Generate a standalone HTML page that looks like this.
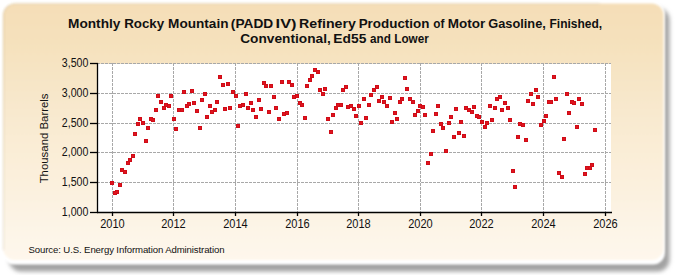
<!DOCTYPE html>
<html><head><meta charset="utf-8"><style>html,body{margin:0;padding:0;background:#fff;width:675px;height:275px;overflow:hidden}svg{display:block}</style></head>
<body><svg width="675" height="275" viewBox="0 0 675 275">
<defs>
<linearGradient id="bg" x1="0" y1="0" x2="0" y2="1">
<stop offset="0" stop-color="rgb(245,222,183)"/>
<stop offset="0.15" stop-color="rgb(245,225,188)"/>
<stop offset="0.4" stop-color="rgb(248,232,205)"/>
<stop offset="0.57" stop-color="rgb(250,237,214)"/>
<stop offset="0.9" stop-color="rgb(253,245,232)"/>
<stop offset="1" stop-color="rgb(254,247,236)"/>
</linearGradient>
<filter id="sh" x="-5%" y="-5%" width="110%" height="115%"><feGaussianBlur stdDeviation="2.3"/></filter>
<filter id="rim" x="-5%" y="-5%" width="110%" height="115%"><feGaussianBlur stdDeviation="1.0"/></filter>
<filter id="soft" x="-5%" y="-5%" width="110%" height="115%"><feGaussianBlur stdDeviation="1.3"/></filter>
</defs>
<rect x="0" y="0" width="675" height="275" fill="#ffffff"/>
<rect x="9" y="8" width="660.5" height="263.5" rx="12" fill="#a2a2a2" filter="url(#sh)"/>
<rect x="2" y="2" width="663" height="262.5" rx="12" fill="#ffffff" filter="url(#rim)"/>
<rect x="3" y="3.5" width="660.5" height="256.5" rx="12" fill="url(#bg)" filter="url(#soft)"/>
<path d="M3.5,250 V15.5 A12,12 0 0 1 15.5,3.5 H600" fill="none" stroke="rgba(110,100,70,0.12)" stroke-width="1.2" filter="url(#soft)"/>
<rect x="98" y="64" width="513" height="148" fill="#ffffff"/>
<g stroke="#a8a8a8" stroke-width="1" stroke-dasharray="3,1" fill="none">
<line x1="97" y1="182.5" x2="611" y2="182.5"/><line x1="97" y1="152.5" x2="611" y2="152.5"/><line x1="97" y1="123.5" x2="611" y2="123.5"/><line x1="97" y1="93.5" x2="611" y2="93.5"/><line x1="97" y1="63.5" x2="611" y2="63.5"/>
</g>
<g stroke="#a8a8a8" stroke-width="1" stroke-dasharray="3,1" fill="none">
<line x1="112.5" y1="63" x2="112.5" y2="212"/><line x1="173.5" y1="63" x2="173.5" y2="212"/><line x1="235.5" y1="63" x2="235.5" y2="212"/><line x1="297.5" y1="63" x2="297.5" y2="212"/><line x1="358.5" y1="63" x2="358.5" y2="212"/><line x1="420.5" y1="63" x2="420.5" y2="212"/><line x1="481.5" y1="63" x2="481.5" y2="212"/><line x1="543.5" y1="63" x2="543.5" y2="212"/><line x1="605.5" y1="63" x2="605.5" y2="212"/>
</g>
<g stroke="#000" stroke-width="1.3" fill="none">
<line x1="97.5" y1="63" x2="97.5" y2="213"/>
<line x1="97" y1="212.5" x2="612" y2="212.5"/>
<line x1="90" y1="212.5" x2="98" y2="212.5"/><line x1="90" y1="182.5" x2="98" y2="182.5"/><line x1="90" y1="152.5" x2="98" y2="152.5"/><line x1="90" y1="123.5" x2="98" y2="123.5"/><line x1="90" y1="93.5" x2="98" y2="93.5"/><line x1="90" y1="63.5" x2="98" y2="63.5"/>
<line x1="112.5" y1="212" x2="112.5" y2="216"/><line x1="173.5" y1="212" x2="173.5" y2="216"/><line x1="235.5" y1="212" x2="235.5" y2="216"/><line x1="297.5" y1="212" x2="297.5" y2="216"/><line x1="358.5" y1="212" x2="358.5" y2="216"/><line x1="420.5" y1="212" x2="420.5" y2="216"/><line x1="481.5" y1="212" x2="481.5" y2="216"/><line x1="543.5" y1="212" x2="543.5" y2="216"/><line x1="605.5" y1="212" x2="605.5" y2="216"/>
</g>
<g fill="#CF0C17">
<rect x="110" y="181" width="4" height="4"/><rect x="113" y="191" width="4" height="4"/><rect x="115" y="190" width="4" height="4"/><rect x="118" y="183" width="4" height="4"/><rect x="120" y="168" width="4" height="4"/><rect x="123" y="170" width="4" height="4"/><rect x="126" y="161" width="4" height="4"/><rect x="128" y="158" width="4" height="4"/><rect x="131" y="154" width="4" height="4"/><rect x="133" y="132" width="4" height="4"/><rect x="136" y="122" width="4" height="4"/><rect x="138" y="117" width="4" height="4"/><rect x="141" y="121" width="4" height="4"/><rect x="144" y="139" width="4" height="4"/><rect x="146" y="126" width="4" height="4"/><rect x="149" y="117" width="4" height="4"/><rect x="151" y="118" width="4" height="4"/><rect x="154" y="108" width="4" height="4"/><rect x="156" y="94" width="4" height="4"/><rect x="159" y="100" width="4" height="4"/><rect x="162" y="106" width="4" height="4"/><rect x="164" y="103" width="4" height="4"/><rect x="167" y="104" width="4" height="4"/><rect x="169" y="94" width="4" height="4"/><rect x="172" y="117" width="4" height="4"/><rect x="174" y="127" width="4" height="4"/><rect x="177" y="108" width="4" height="4"/><rect x="180" y="108" width="4" height="4"/><rect x="182" y="90" width="4" height="4"/><rect x="185" y="104" width="4" height="4"/><rect x="187" y="102" width="4" height="4"/><rect x="190" y="89" width="4" height="4"/><rect x="192" y="101" width="4" height="4"/><rect x="195" y="109" width="4" height="4"/><rect x="198" y="126" width="4" height="4"/><rect x="200" y="98" width="4" height="4"/><rect x="203" y="92" width="4" height="4"/><rect x="205" y="115" width="4" height="4"/><rect x="208" y="104" width="4" height="4"/><rect x="210" y="110" width="4" height="4"/><rect x="213" y="108" width="4" height="4"/><rect x="215" y="100" width="4" height="4"/><rect x="218" y="75" width="4" height="4"/><rect x="221" y="83" width="4" height="4"/><rect x="223" y="107" width="4" height="4"/><rect x="226" y="82" width="4" height="4"/><rect x="228" y="106" width="4" height="4"/><rect x="231" y="90" width="4" height="4"/><rect x="234" y="94" width="4" height="4"/><rect x="236" y="124" width="4" height="4"/><rect x="238" y="104" width="4" height="4"/><rect x="241" y="103" width="4" height="4"/><rect x="244" y="92" width="4" height="4"/><rect x="246" y="106" width="4" height="4"/><rect x="249" y="101" width="4" height="4"/><rect x="251" y="108" width="4" height="4"/><rect x="254" y="115" width="4" height="4"/><rect x="257" y="98" width="4" height="4"/><rect x="259" y="107" width="4" height="4"/><rect x="262" y="81" width="4" height="4"/><rect x="264" y="84" width="4" height="4"/><rect x="267" y="110" width="4" height="4"/><rect x="269" y="84" width="4" height="4"/><rect x="272" y="95" width="4" height="4"/><rect x="274" y="106" width="4" height="4"/><rect x="277" y="117" width="4" height="4"/><rect x="280" y="80" width="4" height="4"/><rect x="282" y="112" width="4" height="4"/><rect x="285" y="111" width="4" height="4"/><rect x="287" y="80" width="4" height="4"/><rect x="290" y="83" width="4" height="4"/><rect x="292" y="95" width="4" height="4"/><rect x="295" y="94" width="4" height="4"/><rect x="298" y="101" width="4" height="4"/><rect x="300" y="103" width="4" height="4"/><rect x="303" y="116" width="4" height="4"/><rect x="305" y="84" width="4" height="4"/><rect x="308" y="78" width="4" height="4"/><rect x="310" y="74" width="4" height="4"/><rect x="313" y="68" width="4" height="4"/><rect x="316" y="70" width="4" height="4"/><rect x="318" y="88" width="4" height="4"/><rect x="321" y="92" width="4" height="4"/><rect x="323" y="87" width="4" height="4"/><rect x="326" y="117" width="4" height="4"/><rect x="329" y="130" width="4" height="4"/><rect x="331" y="113" width="4" height="4"/><rect x="334" y="106" width="4" height="4"/><rect x="336" y="103" width="4" height="4"/><rect x="339" y="103" width="4" height="4"/><rect x="341" y="88" width="4" height="4"/><rect x="344" y="85" width="4" height="4"/><rect x="346" y="105" width="4" height="4"/><rect x="349" y="104" width="4" height="4"/><rect x="352" y="107" width="4" height="4"/><rect x="354" y="114" width="4" height="4"/><rect x="357" y="104" width="4" height="4"/><rect x="359" y="121" width="4" height="4"/><rect x="362" y="97" width="4" height="4"/><rect x="364" y="116" width="4" height="4"/><rect x="367" y="103" width="4" height="4"/><rect x="369" y="93" width="4" height="4"/><rect x="372" y="88" width="4" height="4"/><rect x="375" y="85" width="4" height="4"/><rect x="377" y="99" width="4" height="4"/><rect x="380" y="95" width="4" height="4"/><rect x="382" y="100" width="4" height="4"/><rect x="385" y="104" width="4" height="4"/><rect x="388" y="96" width="4" height="4"/><rect x="390" y="120" width="4" height="4"/><rect x="393" y="111" width="4" height="4"/><rect x="395" y="117" width="4" height="4"/><rect x="398" y="100" width="4" height="4"/><rect x="400" y="97" width="4" height="4"/><rect x="403" y="76" width="4" height="4"/><rect x="405" y="87" width="4" height="4"/><rect x="408" y="97" width="4" height="4"/><rect x="411" y="100" width="4" height="4"/><rect x="413" y="113" width="4" height="4"/><rect x="416" y="109" width="4" height="4"/><rect x="418" y="104" width="4" height="4"/><rect x="421" y="105" width="4" height="4"/><rect x="423" y="113" width="4" height="4"/><rect x="426" y="161" width="4" height="4"/><rect x="429" y="152" width="4" height="4"/><rect x="431" y="129" width="4" height="4"/><rect x="434" y="112" width="4" height="4"/><rect x="436" y="104" width="4" height="4"/><rect x="439" y="122" width="4" height="4"/><rect x="441" y="126" width="4" height="4"/><rect x="444" y="149" width="4" height="4"/><rect x="447" y="121" width="4" height="4"/><rect x="449" y="115" width="4" height="4"/><rect x="452" y="135" width="4" height="4"/><rect x="454" y="107" width="4" height="4"/><rect x="457" y="131" width="4" height="4"/><rect x="459" y="120" width="4" height="4"/><rect x="462" y="134" width="4" height="4"/><rect x="464" y="106" width="4" height="4"/><rect x="467" y="108" width="4" height="4"/><rect x="470" y="110" width="4" height="4"/><rect x="472" y="105" width="4" height="4"/><rect x="475" y="114" width="4" height="4"/><rect x="477" y="115" width="4" height="4"/><rect x="480" y="120" width="4" height="4"/><rect x="483" y="125" width="4" height="4"/><rect x="485" y="121" width="4" height="4"/><rect x="488" y="104" width="4" height="4"/><rect x="490" y="118" width="4" height="4"/><rect x="493" y="106" width="4" height="4"/><rect x="495" y="97" width="4" height="4"/><rect x="498" y="95" width="4" height="4"/><rect x="500" y="108" width="4" height="4"/><rect x="503" y="101" width="4" height="4"/><rect x="506" y="106" width="4" height="4"/><rect x="508" y="118" width="4" height="4"/><rect x="511" y="169" width="4" height="4"/><rect x="513" y="185" width="4" height="4"/><rect x="516" y="135" width="4" height="4"/><rect x="518" y="122" width="4" height="4"/><rect x="521" y="123" width="4" height="4"/><rect x="524" y="138" width="4" height="4"/><rect x="526" y="99" width="4" height="4"/><rect x="529" y="92" width="4" height="4"/><rect x="531" y="102" width="4" height="4"/><rect x="534" y="88" width="4" height="4"/><rect x="536" y="95" width="4" height="4"/><rect x="539" y="123" width="4" height="4"/><rect x="542" y="119" width="4" height="4"/><rect x="544" y="114" width="4" height="4"/><rect x="547" y="100" width="4" height="4"/><rect x="549" y="100" width="4" height="4"/><rect x="552" y="75" width="4" height="4"/><rect x="554" y="97" width="4" height="4"/><rect x="557" y="171" width="4" height="4"/><rect x="560" y="175" width="4" height="4"/><rect x="562" y="137" width="4" height="4"/><rect x="565" y="92" width="4" height="4"/><rect x="567" y="111" width="4" height="4"/><rect x="570" y="100" width="4" height="4"/><rect x="572" y="101" width="4" height="4"/><rect x="575" y="125" width="4" height="4"/><rect x="577" y="97" width="4" height="4"/><rect x="580" y="102" width="4" height="4"/><rect x="583" y="172" width="4" height="4"/><rect x="585" y="166" width="4" height="4"/><rect x="588" y="166" width="4" height="4"/><rect x="590" y="163" width="4" height="4"/><rect x="593" y="128" width="4" height="4"/>
</g>
<g fill="#E0141E">
<rect x="111" y="182" width="2" height="2"/><rect x="114" y="192" width="2" height="2"/><rect x="116" y="191" width="2" height="2"/><rect x="119" y="184" width="2" height="2"/><rect x="121" y="169" width="2" height="2"/><rect x="124" y="171" width="2" height="2"/><rect x="127" y="162" width="2" height="2"/><rect x="129" y="159" width="2" height="2"/><rect x="132" y="155" width="2" height="2"/><rect x="134" y="133" width="2" height="2"/><rect x="137" y="123" width="2" height="2"/><rect x="139" y="118" width="2" height="2"/><rect x="142" y="122" width="2" height="2"/><rect x="145" y="140" width="2" height="2"/><rect x="147" y="127" width="2" height="2"/><rect x="150" y="118" width="2" height="2"/><rect x="152" y="119" width="2" height="2"/><rect x="155" y="109" width="2" height="2"/><rect x="157" y="95" width="2" height="2"/><rect x="160" y="101" width="2" height="2"/><rect x="163" y="107" width="2" height="2"/><rect x="165" y="104" width="2" height="2"/><rect x="168" y="105" width="2" height="2"/><rect x="170" y="95" width="2" height="2"/><rect x="173" y="118" width="2" height="2"/><rect x="175" y="128" width="2" height="2"/><rect x="178" y="109" width="2" height="2"/><rect x="181" y="109" width="2" height="2"/><rect x="183" y="91" width="2" height="2"/><rect x="186" y="105" width="2" height="2"/><rect x="188" y="103" width="2" height="2"/><rect x="191" y="90" width="2" height="2"/><rect x="193" y="102" width="2" height="2"/><rect x="196" y="110" width="2" height="2"/><rect x="199" y="127" width="2" height="2"/><rect x="201" y="99" width="2" height="2"/><rect x="204" y="93" width="2" height="2"/><rect x="206" y="116" width="2" height="2"/><rect x="209" y="105" width="2" height="2"/><rect x="211" y="111" width="2" height="2"/><rect x="214" y="109" width="2" height="2"/><rect x="216" y="101" width="2" height="2"/><rect x="219" y="76" width="2" height="2"/><rect x="222" y="84" width="2" height="2"/><rect x="224" y="108" width="2" height="2"/><rect x="227" y="83" width="2" height="2"/><rect x="229" y="107" width="2" height="2"/><rect x="232" y="91" width="2" height="2"/><rect x="235" y="95" width="2" height="2"/><rect x="237" y="125" width="2" height="2"/><rect x="239" y="105" width="2" height="2"/><rect x="242" y="104" width="2" height="2"/><rect x="245" y="93" width="2" height="2"/><rect x="247" y="107" width="2" height="2"/><rect x="250" y="102" width="2" height="2"/><rect x="252" y="109" width="2" height="2"/><rect x="255" y="116" width="2" height="2"/><rect x="258" y="99" width="2" height="2"/><rect x="260" y="108" width="2" height="2"/><rect x="263" y="82" width="2" height="2"/><rect x="265" y="85" width="2" height="2"/><rect x="268" y="111" width="2" height="2"/><rect x="270" y="85" width="2" height="2"/><rect x="273" y="96" width="2" height="2"/><rect x="275" y="107" width="2" height="2"/><rect x="278" y="118" width="2" height="2"/><rect x="281" y="81" width="2" height="2"/><rect x="283" y="113" width="2" height="2"/><rect x="286" y="112" width="2" height="2"/><rect x="288" y="81" width="2" height="2"/><rect x="291" y="84" width="2" height="2"/><rect x="293" y="96" width="2" height="2"/><rect x="296" y="95" width="2" height="2"/><rect x="299" y="102" width="2" height="2"/><rect x="301" y="104" width="2" height="2"/><rect x="304" y="117" width="2" height="2"/><rect x="306" y="85" width="2" height="2"/><rect x="309" y="79" width="2" height="2"/><rect x="311" y="75" width="2" height="2"/><rect x="314" y="69" width="2" height="2"/><rect x="317" y="71" width="2" height="2"/><rect x="319" y="89" width="2" height="2"/><rect x="322" y="93" width="2" height="2"/><rect x="324" y="88" width="2" height="2"/><rect x="327" y="118" width="2" height="2"/><rect x="330" y="131" width="2" height="2"/><rect x="332" y="114" width="2" height="2"/><rect x="335" y="107" width="2" height="2"/><rect x="337" y="104" width="2" height="2"/><rect x="340" y="104" width="2" height="2"/><rect x="342" y="89" width="2" height="2"/><rect x="345" y="86" width="2" height="2"/><rect x="347" y="106" width="2" height="2"/><rect x="350" y="105" width="2" height="2"/><rect x="353" y="108" width="2" height="2"/><rect x="355" y="115" width="2" height="2"/><rect x="358" y="105" width="2" height="2"/><rect x="360" y="122" width="2" height="2"/><rect x="363" y="98" width="2" height="2"/><rect x="365" y="117" width="2" height="2"/><rect x="368" y="104" width="2" height="2"/><rect x="370" y="94" width="2" height="2"/><rect x="373" y="89" width="2" height="2"/><rect x="376" y="86" width="2" height="2"/><rect x="378" y="100" width="2" height="2"/><rect x="381" y="96" width="2" height="2"/><rect x="383" y="101" width="2" height="2"/><rect x="386" y="105" width="2" height="2"/><rect x="389" y="97" width="2" height="2"/><rect x="391" y="121" width="2" height="2"/><rect x="394" y="112" width="2" height="2"/><rect x="396" y="118" width="2" height="2"/><rect x="399" y="101" width="2" height="2"/><rect x="401" y="98" width="2" height="2"/><rect x="404" y="77" width="2" height="2"/><rect x="406" y="88" width="2" height="2"/><rect x="409" y="98" width="2" height="2"/><rect x="412" y="101" width="2" height="2"/><rect x="414" y="114" width="2" height="2"/><rect x="417" y="110" width="2" height="2"/><rect x="419" y="105" width="2" height="2"/><rect x="422" y="106" width="2" height="2"/><rect x="424" y="114" width="2" height="2"/><rect x="427" y="162" width="2" height="2"/><rect x="430" y="153" width="2" height="2"/><rect x="432" y="130" width="2" height="2"/><rect x="435" y="113" width="2" height="2"/><rect x="437" y="105" width="2" height="2"/><rect x="440" y="123" width="2" height="2"/><rect x="442" y="127" width="2" height="2"/><rect x="445" y="150" width="2" height="2"/><rect x="448" y="122" width="2" height="2"/><rect x="450" y="116" width="2" height="2"/><rect x="453" y="136" width="2" height="2"/><rect x="455" y="108" width="2" height="2"/><rect x="458" y="132" width="2" height="2"/><rect x="460" y="121" width="2" height="2"/><rect x="463" y="135" width="2" height="2"/><rect x="465" y="107" width="2" height="2"/><rect x="468" y="109" width="2" height="2"/><rect x="471" y="111" width="2" height="2"/><rect x="473" y="106" width="2" height="2"/><rect x="476" y="115" width="2" height="2"/><rect x="478" y="116" width="2" height="2"/><rect x="481" y="121" width="2" height="2"/><rect x="484" y="126" width="2" height="2"/><rect x="486" y="122" width="2" height="2"/><rect x="489" y="105" width="2" height="2"/><rect x="491" y="119" width="2" height="2"/><rect x="494" y="107" width="2" height="2"/><rect x="496" y="98" width="2" height="2"/><rect x="499" y="96" width="2" height="2"/><rect x="501" y="109" width="2" height="2"/><rect x="504" y="102" width="2" height="2"/><rect x="507" y="107" width="2" height="2"/><rect x="509" y="119" width="2" height="2"/><rect x="512" y="170" width="2" height="2"/><rect x="514" y="186" width="2" height="2"/><rect x="517" y="136" width="2" height="2"/><rect x="519" y="123" width="2" height="2"/><rect x="522" y="124" width="2" height="2"/><rect x="525" y="139" width="2" height="2"/><rect x="527" y="100" width="2" height="2"/><rect x="530" y="93" width="2" height="2"/><rect x="532" y="103" width="2" height="2"/><rect x="535" y="89" width="2" height="2"/><rect x="537" y="96" width="2" height="2"/><rect x="540" y="124" width="2" height="2"/><rect x="543" y="120" width="2" height="2"/><rect x="545" y="115" width="2" height="2"/><rect x="548" y="101" width="2" height="2"/><rect x="550" y="101" width="2" height="2"/><rect x="553" y="76" width="2" height="2"/><rect x="555" y="98" width="2" height="2"/><rect x="558" y="172" width="2" height="2"/><rect x="561" y="176" width="2" height="2"/><rect x="563" y="138" width="2" height="2"/><rect x="566" y="93" width="2" height="2"/><rect x="568" y="112" width="2" height="2"/><rect x="571" y="101" width="2" height="2"/><rect x="573" y="102" width="2" height="2"/><rect x="576" y="126" width="2" height="2"/><rect x="578" y="98" width="2" height="2"/><rect x="581" y="103" width="2" height="2"/><rect x="584" y="173" width="2" height="2"/><rect x="586" y="167" width="2" height="2"/><rect x="589" y="167" width="2" height="2"/><rect x="591" y="164" width="2" height="2"/><rect x="594" y="129" width="2" height="2"/>
</g>
<g font-family="Liberation Sans" font-size="12" fill="#111">
<text x="88.3" y="216.3" text-anchor="end" textLength="26.5" lengthAdjust="spacingAndGlyphs">1,000</text><text x="88.3" y="186.3" text-anchor="end" textLength="26.5" lengthAdjust="spacingAndGlyphs">1,500</text><text x="88.3" y="156.3" text-anchor="end" textLength="26.5" lengthAdjust="spacingAndGlyphs">2,000</text><text x="88.3" y="127.3" text-anchor="end" textLength="26.5" lengthAdjust="spacingAndGlyphs">2,500</text><text x="88.3" y="97.3" text-anchor="end" textLength="26.5" lengthAdjust="spacingAndGlyphs">3,000</text><text x="88.3" y="67.3" text-anchor="end" textLength="26.5" lengthAdjust="spacingAndGlyphs">3,500</text>
<text x="112.5" y="228" text-anchor="middle" textLength="24.5" lengthAdjust="spacingAndGlyphs">2010</text><text x="173.5" y="228" text-anchor="middle" textLength="24.5" lengthAdjust="spacingAndGlyphs">2012</text><text x="235.5" y="228" text-anchor="middle" textLength="24.5" lengthAdjust="spacingAndGlyphs">2014</text><text x="297.5" y="228" text-anchor="middle" textLength="24.5" lengthAdjust="spacingAndGlyphs">2016</text><text x="358.5" y="228" text-anchor="middle" textLength="24.5" lengthAdjust="spacingAndGlyphs">2018</text><text x="420.5" y="228" text-anchor="middle" textLength="24.5" lengthAdjust="spacingAndGlyphs">2020</text><text x="481.5" y="228" text-anchor="middle" textLength="24.5" lengthAdjust="spacingAndGlyphs">2022</text><text x="543.5" y="228" text-anchor="middle" textLength="24.5" lengthAdjust="spacingAndGlyphs">2024</text><text x="605.5" y="228" text-anchor="middle" textLength="24.5" lengthAdjust="spacingAndGlyphs">2026</text>
<text transform="translate(48,138.4) rotate(-90)" text-anchor="middle" font-size="11.4">Thousand Barrels</text>
</g>
<g font-family="Liberation Sans" font-weight="bold" font-size="13.6" fill="#111">
<text x="68.05" y="28" textLength="52.37" lengthAdjust="spacingAndGlyphs">Monthly</text><text x="124.17" y="28" textLength="40.06" lengthAdjust="spacingAndGlyphs">Rocky</text><text x="168.05" y="28" textLength="60.45" lengthAdjust="spacingAndGlyphs">Mountain</text><text x="230.85" y="28" textLength="42.37" lengthAdjust="spacingAndGlyphs">(PADD</text><text x="275.64" y="28" textLength="20.95" lengthAdjust="spacingAndGlyphs">IV)</text><text x="299.11" y="28" textLength="56.72" lengthAdjust="spacingAndGlyphs">Refinery</text><text x="358.67" y="28" textLength="70.76" lengthAdjust="spacingAndGlyphs">Production</text><text x="433.3" y="28" textLength="11.15" lengthAdjust="spacingAndGlyphs">of</text><text x="447.86" y="28" textLength="37.45" lengthAdjust="spacingAndGlyphs">Motor</text><text x="488.3" y="28" textLength="57.52" lengthAdjust="spacingAndGlyphs">Gasoline,</text><text x="549.48" y="28" textLength="52.71" lengthAdjust="spacingAndGlyphs">Finished,</text>
<text x="240.2" y="43" textLength="90.6" lengthAdjust="spacingAndGlyphs">Conventional,</text><text x="333.34" y="43" textLength="33.05" lengthAdjust="spacingAndGlyphs">Ed55</text><text x="370.0" y="43" textLength="20.81" lengthAdjust="spacingAndGlyphs">and</text><text x="394.3" y="43" textLength="34.47" lengthAdjust="spacingAndGlyphs">Lower</text>
</g>
<text x="28.5" y="252.6" font-family="Liberation Sans" font-size="9.6" fill="#111" textLength="196" lengthAdjust="spacing">Source: U.S. Energy Information Administration</text>
</svg></body></html>
